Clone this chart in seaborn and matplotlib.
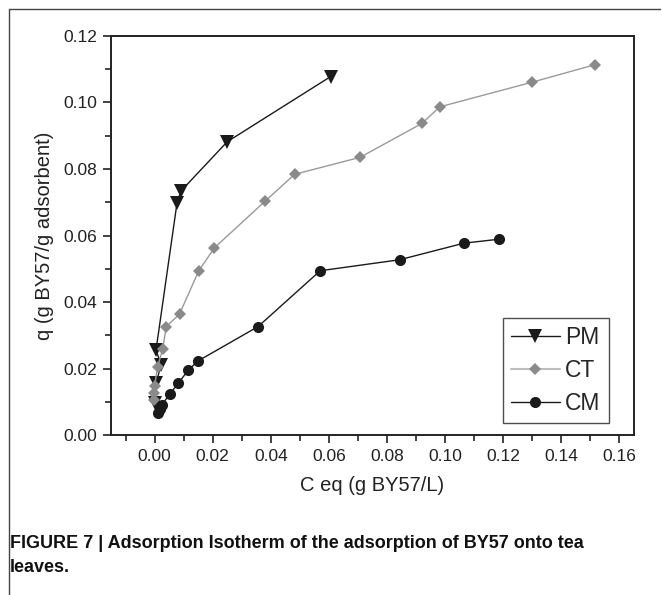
import numpy as np
import pandas as pd
import matplotlib
matplotlib.use("Agg")
import matplotlib.pyplot as plt
from matplotlib.ticker import MultipleLocator, FormatStrFormatter
from matplotlib.lines import Line2D
import seaborn as sns

# ---- data ----
pm_x = [0.0003, 0.0005, 0.0022, 0.0005, 0.0077, 0.0091, 0.0250, 0.0606]
pm_y = [0.0095, 0.0155, 0.0211, 0.0256, 0.0697, 0.0734, 0.0882, 0.1078]

ct_x = [-0.0003, -0.0003, 0.0000, 0.0010, 0.0028, 0.0040, 0.0086, 0.0152,
        0.0206, 0.0380, 0.0482, 0.0707, 0.0920, 0.0982, 0.1299, 0.1517]
ct_y = [0.0105, 0.0127, 0.0147, 0.0204, 0.0259, 0.0326, 0.0364, 0.0494,
        0.0563, 0.0703, 0.0784, 0.0835, 0.0937, 0.0987, 0.1061, 0.1114]

cm_x = [0.0010, 0.0017, 0.0025, 0.0052, 0.0081, 0.0115, 0.0148, 0.0356,
        0.0570, 0.0843, 0.1065, 0.1187]
cm_y = [0.0065, 0.0077, 0.0090, 0.0123, 0.0155, 0.0194, 0.0222, 0.0326,
        0.0494, 0.0527, 0.0577, 0.0589]

series_names = ["PM", "CT", "CM"]
x_label = "C eq (g BY57/L)"
y_label = "q (g BY57/g adsorbent)"
caption_1 = "FIGURE 7 | Adsorption Isotherm of the adsorption of BY57 onto tea"
caption_2 = "leaves."

sns.set_theme(style="white")
plt.rcParams["font.family"] = ["Liberation Sans", "DejaVu Sans"]

fig = plt.figure(figsize=(6.62, 5.95), dpi=100)
ax = fig.add_axes([0.1677, 0.2689, 0.9577 - 0.1677, 0.9395 - 0.2689])

df_pm = pd.DataFrame({"x": pm_x, "y": pm_y})
df_ct = pd.DataFrame({"x": ct_x, "y": ct_y})
df_cm = pd.DataFrame({"x": cm_x, "y": cm_y})

sns.lineplot(data=df_pm, x="x", y="y", sort=False, estimator=None, ax=ax,
             color="#1a1a1a", linewidth=1.0, marker="v", markersize=10,
             markeredgewidth=0, markerfacecolor="#1a1a1a")
sns.lineplot(data=df_ct, x="x", y="y", sort=False, estimator=None, ax=ax,
             color="#9a9a9a", linewidth=1.0, marker="D", markersize=6.5,
             markeredgewidth=0, markerfacecolor="#8a8a8a")
sns.lineplot(data=df_cm, x="x", y="y", sort=False, estimator=None, ax=ax,
             color="#1a1a1a", linewidth=1.0, marker="o", markersize=8,
             markeredgewidth=0, markerfacecolor="#1a1a1a")

ax.set_xlim(-0.015, 0.165)
ax.set_ylim(0.0, 0.12)
ax.xaxis.set_major_locator(MultipleLocator(0.02))
ax.xaxis.set_minor_locator(MultipleLocator(0.01))
ax.yaxis.set_major_locator(MultipleLocator(0.02))
ax.yaxis.set_minor_locator(MultipleLocator(0.01))
ax.xaxis.set_major_formatter(FormatStrFormatter("%.2f"))
ax.yaxis.set_major_formatter(FormatStrFormatter("%.2f"))
ax.tick_params(axis="both", which="both", direction="out", bottom=True, left=True,
               top=False, right=False, color="#222222", width=1.2)
ax.tick_params(axis="both", which="major", length=6, labelsize=12.5,
               labelcolor="#222222", pad=4)
ax.tick_params(axis="both", which="minor", length=4)
for s in ax.spines.values():
    s.set_color("#222222")
    s.set_linewidth(1.4)
ax.grid(False)

ax.set_xlabel(x_label, fontsize=14.5, color="#222222", labelpad=9)
ax.set_ylabel(y_label, fontsize=14.5, color="#222222", labelpad=7)

handles = [
    Line2D([], [], color="#1a1a1a", lw=1.0, marker="v", markersize=10, markeredgewidth=0),
    Line2D([], [], color="#bdbdbd", lw=1.5, marker="D", markersize=6.5,
           markeredgewidth=0, markerfacecolor="#8a8a8a"),
    Line2D([], [], color="#1a1a1a", lw=1.0, marker="o", markersize=8, markeredgewidth=0),
]
leg = ax.legend(handles, series_names, loc="upper left",
                bbox_to_anchor=((502.7 - 111) / (634 - 111), 1 - (317.7 - 36) / (435 - 36)),
                fontsize=16.5, frameon=True, fancybox=False, borderpad=0.38,
                handlelength=2.1, handletextpad=0.25, labelspacing=0.42,
                borderaxespad=0)
leg.get_frame().set_edgecolor("#222222")
leg.get_frame().set_linewidth(1.0)

# caption
fig.text(10 / 662, 1 - 543 / 595, caption_1, fontsize=13, fontweight="bold",
         color="#111111", va="center", ha="left")
fig.text(10 / 662, 1 - 568 / 595, caption_2, fontsize=13, fontweight="bold",
         color="#111111", va="center", ha="left")

# outer frame (top and left)
fig.add_artist(Line2D([8.5 / 662, 660 / 662], [1 - 8.5 / 595, 1 - 8.5 / 595],
                      color="#444444", lw=1.0, transform=fig.transFigure))
fig.add_artist(Line2D([8.5 / 662, 8.5 / 662], [0, 1 - 8.5 / 595],
                      color="#444444", lw=1.0, transform=fig.transFigure))

fig.savefig("out.png", dpi=100)
